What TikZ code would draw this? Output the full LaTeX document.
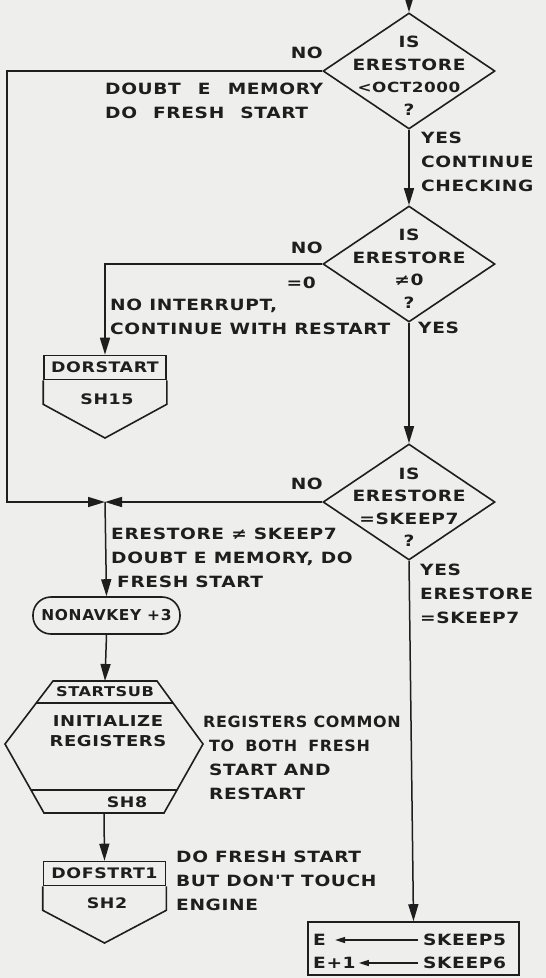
\documentclass[tikz,border=0pt]{standalone}
\usepackage{fontspec}
\newfontfamily\lettr[FakeStretch=1.2,LetterSpace=4]{DejaVu Sans}
\newfontfamily\lettrn[FakeStretch=1.03,LetterSpace=4]{DejaVu Sans}
\usetikzlibrary{arrows.meta,positioning,calc,shapes.geometric}
\definecolor{paper}{HTML}{EEEEEC}
\definecolor{ink}{HTML}{1E1E1E}

\begin{document}
\begin{tikzpicture}[x=1pt,y=-1pt,
  font=\lettr\bfseries\fontsize{15.5}{24}\selectfont,text=ink,
  dec/.style={draw=ink,diamond,line width=1.6pt,minimum width=172pt,
              minimum height=116pt,inner sep=0pt},
  dtxt/.style={align=center,inner sep=0pt,
               font=\lettr\bfseries\fontsize{15.5}{22.5}\selectfont},
  lbl/.style={align=left,inner sep=0pt,anchor=west},
  ttl/.style={draw=ink,line width=1.6pt,minimum width=122pt,
              minimum height=24pt,inner sep=0pt,
              font=\lettr\bfseries\fontsize{14.5}{16}\selectfont},
  term/.style={draw=ink,line width=1.6pt,rounded corners=18pt,
               minimum width=147pt,minimum height=37pt,inner sep=0pt,
               font=\lettrn\bfseries\fontsize{15}{16}\selectfont},
  shp/.style={draw=ink,line width=1.6pt},
  ar/.style={-{Triangle[length=17pt,width=10pt]},line width=1.5pt,draw=ink},
  sar/.style={-{Triangle[length=10pt,width=6pt]},line width=1.3pt,draw=ink},
]
\fill[paper] (0,0) rectangle (546,978);
\useasboundingbox (0,0) rectangle (546,978);

% decisions
\node[dec] (d1) at (409,71) {};
\node[dtxt,yshift=-4.5pt] (d1t) at (d1)
  {IS\\ERESTORE\\{\fontsize{14}{22.5}\selectfont <OCT2000}\\?};
\node[dec] (d2) at (409,264) {};
\node[dtxt,yshift=-4.5pt] (d2t) at (d2) {IS\\ERESTORE\\≠0\\?};
\node[dec] (d3) at (409,502) {};
\node[dtxt,yshift=-5pt] (d3t) at (d3) {IS\\ERESTORE\\=SKEEP7\\?};

\node[lbl,anchor=east] (no1) at (323,53) {NO};
\node[lbl] (dbt1) at (105,101)
  {DOUBT\hspace{10pt} E\hspace{10pt} MEMORY\\DO\hspace{9pt} FRESH\hspace{9pt} START};
\node[lbl] (yes1) at (421,162) {YES\\CONTINUE\\CHECKING};
\node[lbl,anchor=east] (no2) at (323,248) {NO};
\node[lbl,anchor=east] (eq0) at (316,283) {=0};
\node[lbl] (noint) at (110,316.5) {NO INTERRUPT,\\CONTINUE WITH RESTART};
\node[lbl] (yes2) at (418,328) {YES};
\node[lbl,anchor=east] (no3) at (323,484) {NO};
\node[lbl] (neq) at (111,557.5)
  {ERESTORE ≠ SKEEP7\\DOUBT E MEMORY, DO\\\hspace*{6pt}FRESH START};
\node[lbl] (yes3) at (420,593.5) {YES\\ERESTORE\\=SKEEP7};

% off-page connector DORSTART
\node[ttl] (dors) at (105,367.5) {DORSTART};
\coordinate (dorsTip) at (105,438);
\draw[shp] (dors.south west) -- ++(0,24) -- (dorsTip)
  -- ($(dors.south east)+(0,24)$) -- (dors.south east);
\node[font=\lettr\bfseries\fontsize{14.5}{16}\selectfont] (sh15) at (107,399) {SH15};

\node[term] (nonav) at (106.5,615.5) {NONAVKEY +3};

% subroutine STARTSUB
\coordinate (hxA) at (53,681);
\coordinate (hxB) at (157,681);
\coordinate (hxC) at (203,744);
\coordinate (hxD) at (164,813);
\coordinate (hxE) at (44,813);
\coordinate (hxF) at (5,744);
\coordinate (hxT) at (105,681);
\coordinate (hxBot) at (104,813);
\draw[shp] (hxA) -- (hxB) -- (hxC) -- (hxD) -- (hxE) -- (hxF) -- cycle;
\draw[shp] ($(hxA)!0.35!(hxF)$) -- ($(hxB)!0.35!(hxC)$);
\draw[shp] ($(hxF)!0.667!(hxE)$) -- ($(hxC)!0.667!(hxD)$);
\node[font=\lettr\bfseries\fontsize{13.5}{15}\selectfont] (ssub) at (105,692) {STARTSUB};
\node[align=center,font=\lettr\bfseries\fontsize{15}{20}\selectfont] (init) at (108,731)
  {INITIALIZE\\REGISTERS};
\node[font=\lettr\bfseries\fontsize{14.5}{16}\selectfont] (sh8) at (127,802) {SH8};
\node[lbl] (regs) at (203,757.5)
  {{\lettrn\bfseries REGISTERS COMMON}\\
   {\lettrn\bfseries\hspace*{6pt}TO\hspace{5pt} BOTH\hspace{5pt} FRESH}\\
   \hspace*{6pt}START AND\\\hspace*{6pt}RESTART};

% off-page connector DOFSTRT1
\node[ttl] (dofs) at (104.5,873.5) {DOFSTRT1};
\coordinate (dofsTip) at (104.5,943);
\draw[shp] (dofs.south west) -- ++(0,24) -- (dofsTip)
  -- ($(dofs.south east)+(0,24)$) -- (dofs.south east);
\node[font=\lettr\bfseries\fontsize{14.5}{16}\selectfont] (sh2) at (107,903) {SH2};
\node[lbl] (dofr) at (176,880.5) {DO FRESH START\\BUT DON'T TOUCH\\ENGINE};

% restore box
\node[shp,minimum width=211pt,minimum height=53pt,inner sep=0pt] (ebox)
  at (413.5,948.5) {};
\node[lbl] (e0) at (313,940) {E};
\node[lbl] (e1) at (313,963) {E+1};
\node[lbl] (sk5) at (423,940) {SKEEP5};
\node[lbl] (sk6) at (423,963) {SKEEP6};
\draw[sar,shorten <=5pt,shorten >=9pt] (sk5.west) -- (e0.east);
\draw[sar,shorten <=5pt,shorten >=3pt] (sk6.west) -- (e1.east);

% connectors
\coordinate (top) at (409,-8);
\coordinate (jn) at (105,502);
\coordinate (lft) at (7,502);
\draw[ar] (top) -- (d1.north);
\draw[ar] (d1.south) -- (d2.north);
\draw[ar] (d2.south) -- (d3.north);
\draw[ar] (d3.south) -- (ebox.north);
\draw[ar] (d1.west) -| (lft) -- (jn);
\draw[ar] (d3.west) -- (jn);
\draw[ar] (d2.west) -| (dors.north);
\draw[ar] (jn) -- (nonav.north);
\draw[ar] (nonav.south) -- (hxT);
\draw[ar] (hxBot) -- (dofs.north);
\end{tikzpicture}
\end{document}
